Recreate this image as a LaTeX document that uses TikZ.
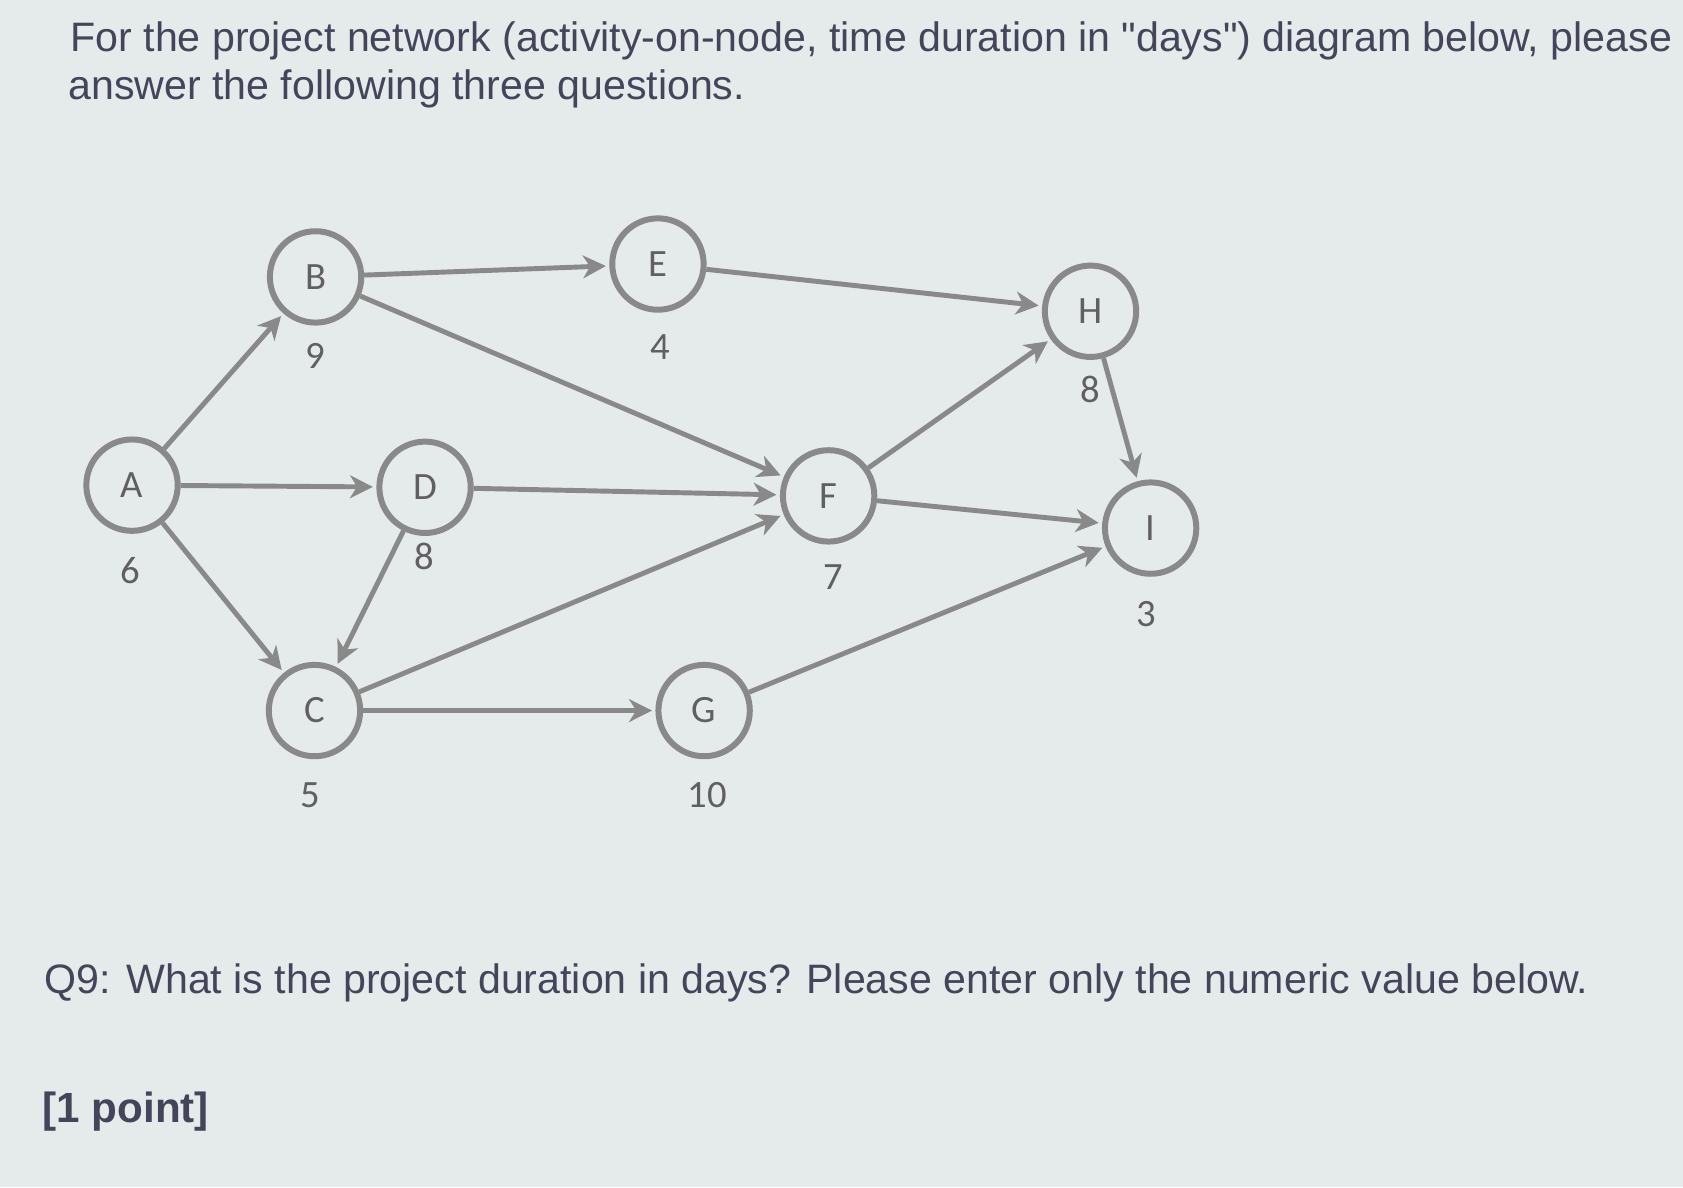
\documentclass[tikz,border=0pt]{standalone}
\usepackage{fontspec}
\setmainfont{Liberation Sans}
\newfontfamily\netfont{Carlito}
\usetikzlibrary{positioning,arrows.meta}
\definecolor{paper}{HTML}{E5EAEB}
\definecolor{ink}{HTML}{44445A}
\definecolor{netgray}{HTML}{898989}

\begin{document}
\begin{tikzpicture}[x=0.021466cm, y=-0.021466cm,
  act/.style={draw=netgray, circle, line width=3.4pt, minimum size=52pt, inner sep=0pt,
    text=netgray!70!black, font=\netfont\fontsize{22}{22}\selectfont},
  dur/.style={text=netgray!70!black, font=\netfont\fontsize{22}{22}\selectfont},
  link/.style={draw=netgray, line width=2.8pt, shorten >=2pt,
    -{Stealth[length=13pt,width=13pt,inset=4pt]}},
  question/.style={anchor=base west, text=ink, font=\fontsize{23.4}{28}\selectfont}]

 \fill[paper] (0,0) rectangle (1568,1106);

 % question text
 \node[question] (title1) at (60,48) {For the project network (activity-on-node, time duration in \textquotedbl days\textquotedbl) diagram below, please};
 \node[question] (title2) at (58,93) {answer the following three questions.};
 \node[question] (q9) at (36,926) {Q9: What is the project duration in days? Please enter only the numeric value below.};
 \node[question, font=\bfseries\fontsize{24}{28}\selectfont] (point) at (34,1046) {[1 point]};

 % activities
 \node[act] (A) at (123,452) {A};
 \node[act] (B) at (294,258) {B};
 \node[act] (C) at (293,662) {C};
 \node[act] (D) at (396,454) {D};
 \node[act] (E) at (613,246) {E};
 \node[act] (F) at (772,462) {F};
 \node[act] (G) at (656,662) {G};
 \node[act] (H) at (1016,290) {H};
 \node[act] (I) at (1072,492) {I};

 % durations
 \node[dur] (dA) at (121,532) {6};
 \node[dur] (dB) at (294,332) {9};
 \node[dur] (dC) at (289,741) {5};
 \node[dur] (dD) at (395,518) {8};
 \node[dur] (dE) at (615,323) {4};
 \node[dur] (dF) at (776,538) {7};
 \node[dur] (dG) at (659,741) {10};
 \node[dur] (dH) at (1016,363) {8};
 \node[dur] (dI) at (1068,572) {3};

 % precedence
 \draw[link] (A) -- (B);
 \draw[link] (A) -- (D);
 \draw[link] (A) -- (C);
 \draw[link] (B) -- (E);
 \draw[link] (B) -- (F);
 \draw[link] (D) -- (F);
 \draw[link] (D) -- (C);
 \draw[link] (C) -- (F);
 \draw[link] (C) -- (G);
 \draw[link] (E) -- (H);
 \draw[link] (F) -- (H);
 \draw[link] (F) -- (I);
 \draw[link] (H) -- (I);
 \draw[link] (G) -- (I);
\end{tikzpicture}
\end{document}
